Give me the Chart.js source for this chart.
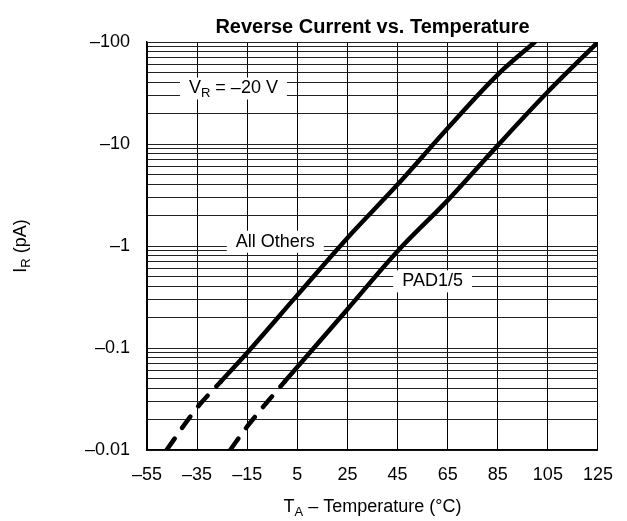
<!DOCTYPE html>
<html>
<head>
<meta charset="utf-8">
<script src="https://cdn.jsdelivr.net/npm/chart.js@4.4.0/dist/chart.umd.min.js"></script>
<style>
html,body{margin:0;padding:0;background:#fff;}
#wrap{width:627px;height:521px;}
</style>
</head>
<body>
<div id="wrap"><canvas id="mycanvas"></canvas></div>
<script>
// axis ticks
var tempTicks = [-55, -35, -15, 5, 25, 45, 65, 85, 105, 125];
var currentDecades = [0.01, 0.1, 1, 10, 100];
var currentTickLabels = ['–0.01', '–0.1', '–1', '–10', '–100'];

// "All Others" curve (dashed for the first segments)
var othersTemp = [-47.2, -35, -25.5, -15, 5, 25, 45, 65, 85, 99.8];
var othersCurrent = [0.01, 0.026, 0.047, 0.09, 0.33, 1.2, 4.0, 14.3, 48, 100];
var othersDashedUpTo = 2;

// "PAD1/5" curve
var padTemp = [-21.8, -15, 0, 5, 25, 45, 65, 85, 105, 125];
var padCurrent = [0.01, 0.017, 0.047, 0.065, 0.24, 0.89, 2.8, 9.7, 32.5, 100];
var padDashedUpTo = 2;

// text notes on the chart (temp, current, text parts)
var notes = [
  {temp: -20.5, current: 35, parts: [['V'], ['R', 1], [' = –20 V']]},
  {temp: -3.8, current: 1.1, parts: [['All Others']]},
  {temp: 59, current: 0.45, parts: [['PAD1/5']]}
];

var FONT = '"Liberation Sans", Arial, Helvetica, sans-serif';
Chart.defaults.font.family = FONT;
Chart.defaults.color = '#000';

function toPoints(xs, ys){
  var pts = [];
  for (var i = 0; i < xs.length; i++) pts.push({x: xs[i], y: ys[i]});
  return pts;
}

function partsWidth(ctx, parts, size){
  var w = 0;
  parts.forEach(function(p){
    ctx.font = (p[1] ? Math.round(size*0.7) : size) + 'px ' + FONT;
    w += ctx.measureText(p[0]).width;
  });
  return w;
}
function drawParts(ctx, parts, x, y, size){
  ctx.textBaseline = 'middle';
  ctx.textAlign = 'left';
  parts.forEach(function(p){
    var s = p[1] ? Math.round(size*0.7) : size;
    ctx.font = s + 'px ' + FONT;
    ctx.fillText(p[0], x, p[1] ? y + size*0.3 : y);
    x += ctx.measureText(p[0]).width;
  });
}

var textPlugin = {
  id: 'textPlugin',
  beforeDatasetsDraw: function(chart){
    var ctx = chart.ctx, xs = chart.scales.x, ys = chart.scales.y;
    ctx.save();
    notes.forEach(function(n){
      var cx = xs.getPixelForValue(n.temp), cy = ys.getPixelForValue(n.current);
      var w = partsWidth(ctx, n.parts, 18);
      ctx.fillStyle = '#fff';
      ctx.fillRect(cx - w/2 - 9, cy - 11, w + 18, 22);
      ctx.fillStyle = '#000';
      drawParts(ctx, n.parts, cx - w/2, cy, 18);
    });
    ctx.restore();
  },
  afterDraw: function(chart){
    var ctx = chart.ctx, a = chart.chartArea;
    ctx.save();
    ctx.fillStyle = '#000';
    var xt = [['T'], ['A', 1], [' – Temperature (°C)']];
    var w = partsWidth(ctx, xt, 18);
    drawParts(ctx, xt, (a.left + a.right)/2 - w/2, 507, 18);
    var yt = [['I'], ['R', 1], [' (pA)']];
    ctx.translate(21, (a.top + a.bottom)/2);
    ctx.rotate(-Math.PI/2);
    w = partsWidth(ctx, yt, 18);
    drawParts(ctx, yt, -w/2, 0, 18);
    ctx.restore();
  }
};

function dashed(limit){
  return function(c){ return c.p1DataIndex <= limit ? [14, 13] : undefined; };
}

var ctx = document.getElementById('mycanvas');
new Chart(ctx, {
  type: 'line',
  data: {
    datasets: [
      {
        label: 'All Others',
        data: toPoints(othersTemp, othersCurrent),
        borderColor: '#000',
        borderWidth: 4.5,
        borderCapStyle: 'round',
        pointRadius: 0,
        cubicInterpolationMode: 'monotone',
        segment: {borderDash: dashed(othersDashedUpTo)}
      },
      {
        label: 'PAD1/5',
        data: toPoints(padTemp, padCurrent),
        borderColor: '#000',
        borderWidth: 4.5,
        borderCapStyle: 'round',
        pointRadius: 0,
        cubicInterpolationMode: 'monotone',
        segment: {borderDash: dashed(padDashedUpTo)}
      }
    ]
  },
  options: {
    responsive: true,
    maintainAspectRatio: false,
    animation: false,
    layout: {padding: {left: 0, right: 21, top: 0, bottom: 0}},
    plugins: {
      legend: {display: false},
      tooltip: {enabled: false},
      title: {
        display: true,
        fullSize: false,
        text: 'Reverse Current vs. Temperature',
        color: '#000',
        font: {size: 20, weight: 'bold'},
        padding: {top: 15, bottom: 3}
      }
    },
    scales: {
      x: {
        type: 'linear',
        min: -55,
        max: 125,
        afterBuildTicks: function(scale){
          scale.ticks = tempTicks.map(function(v){ return {value: v}; });
        },
        afterFit: function(scale){ scale.height = 71; },
        ticks: {
          autoSkip: false,
          maxRotation: 0,
          padding: 14,
          font: {size: 18},
          callback: function(v){ return v < 0 ? '–' + Math.abs(v) : String(v); }
        },
        grid: {color: '#000', lineWidth: 1, drawTicks: false},
        border: {color: '#000', width: 1.5}
      },
      y: {
        type: 'logarithmic',
        min: 0.01,
        max: 100,
        afterBuildTicks: function(scale){
          var t = [];
          for (var d = 0; d < currentDecades.length - 1; d++) {
            for (var m = 1; m < 10; m++) t.push({value: +(currentDecades[d]*m).toPrecision(3)});
          }
          t.push({value: currentDecades[currentDecades.length - 1]});
          scale.ticks = t;
        },
        afterFit: function(scale){ scale.width = 147; },
        ticks: {
          autoSkip: false,
          padding: 17,
          font: {size: 18},
          callback: function(v){
            var i = currentDecades.indexOf(v);
            return i >= 0 ? currentTickLabels[i] : '';
          }
        },
        grid: {color: '#222', lineWidth: 1, drawTicks: false},
        border: {color: '#000', width: 1.5}
      }
    }
  },
  plugins: [textPlugin]
});
</script>
</body>
</html>
